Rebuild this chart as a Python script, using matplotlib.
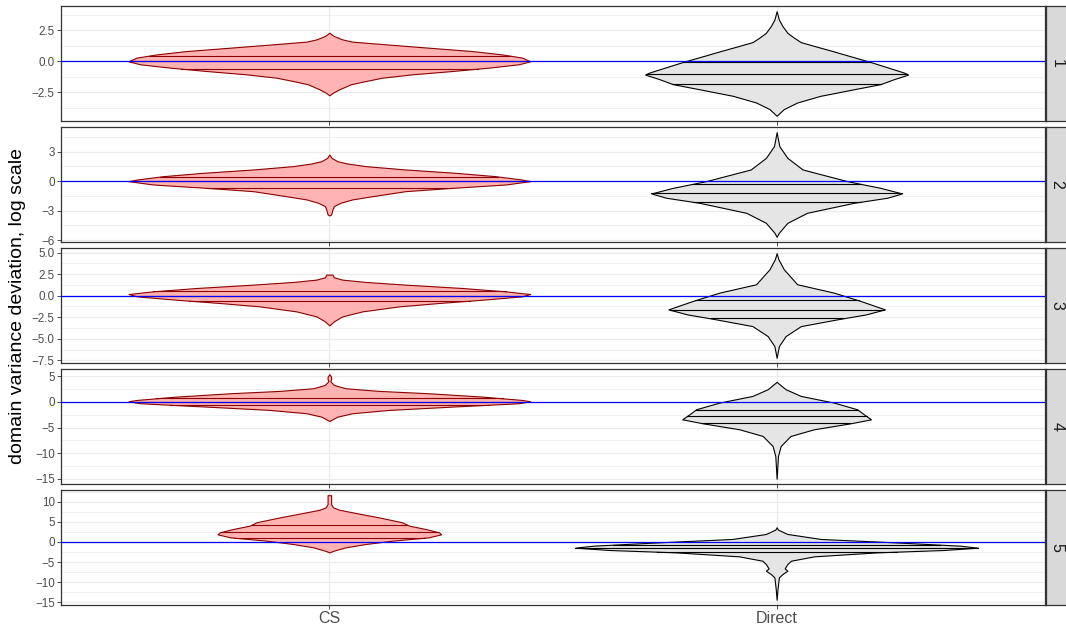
import numpy as np
import matplotlib
matplotlib.use('Agg')
import matplotlib.pyplot as plt

plt.rcParams['font.family'] = ['Liberation Sans', 'DejaVu Sans']

# categories on the x axis and facet labels
groups = ['CS', 'Direct']
facets = ['1', '2', '3', '4', '5']

# violin outlines: y value and half width (x units)
p1_cs_y = [2.31, 2.04, 1.77, 1.59, 1.37, 1.10, 0.83, 0.56, 0.30, 0.0, -0.24, -0.51, -0.78,
           -1.05, -1.32, -1.59, -1.85, -2.26, -2.53, -2.74]
p1_cs_w = [0.0, 0.010, 0.029, 0.051, 0.126, 0.222, 0.319, 0.386, 0.431, 0.449, 0.423, 0.356,
           0.275, 0.185, 0.118, 0.081, 0.048, 0.022, 0.008, 0.0]
p1_cs_q = [0.46, 0.0, -0.59]
p1_dr_y = [4.04, 3.37, 2.84, 2.30, 1.90, 1.55, 1.23, 0.83, 0.43, 0.0, -0.51, -0.91, -1.07,
           -1.44, -1.84, -2.25, -2.78, -3.32, -3.85, -4.39]
p1_dr_w = [0.0, 0.005, 0.013, 0.024, 0.039, 0.054, 0.085, 0.125, 0.163, 0.205, 0.25, 0.285,
           0.294, 0.262, 0.232, 0.173, 0.098, 0.046, 0.016, 0.0]
p1_dr_q = [-0.05, -1.02, -1.82]

p2_cs_y = [2.71, 2.37, 2.03, 1.8, 1.53, 1.19, 0.85, 0.51, 0.17, 0.0, -0.34, -0.68, -1.02,
           -1.53, -1.86, -2.2, -2.54, -2.88, -3.39, -3.49]
p2_cs_w = [0.0, 0.005, 0.018, 0.04, 0.081, 0.17, 0.282, 0.371, 0.43, 0.449, 0.394, 0.275,
           0.17, 0.096, 0.051, 0.025, 0.01, 0.007, 0.004, 0.0]
p2_cs_q = [0.47, 0.0, -0.68]
p2_dr_y = [4.98, 3.56, 2.37, 1.19, 0.0, -0.68, -1.25, -1.69, -2.2, -3.22, -4.24, -5.25, -5.66]
p2_dr_w = [0.0, 0.006, 0.024, 0.058, 0.158, 0.232, 0.28, 0.247, 0.173, 0.068, 0.024, 0.005, 0.0]
p2_dr_q = [-0.27, -1.25, -2.1]

p3_cs_y = [2.44, 2.13, 1.86, 1.59, 1.28, 0.89, 0.5, 0.19, -0.08, -0.47, -0.85, -1.24, -1.82,
           -2.4, -2.98, -3.45]
p3_cs_w = [0.007, 0.01, 0.029, 0.081, 0.17, 0.297, 0.394, 0.449, 0.43, 0.342, 0.245, 0.156,
           0.074, 0.029, 0.01, 0.0]
p3_cs_q = [0.5, 0.0, -0.58]
p3_dr_y = [4.92, 4.22, 3.06, 1.32, 0.35, -0.62, -1.59, -2.17, -2.75, -3.53, -4.69, -5.85, -7.2]
p3_dr_w = [0.0, 0.004, 0.016, 0.046, 0.128, 0.188, 0.242, 0.2, 0.135, 0.054, 0.02, 0.005, 0.0]
p3_dr_q = [-0.54, -1.63, -2.64]

p4_cs_y = [5.4, 4.9, 4.4, 4.1, 3.97, 3.32, 2.67, 2.15, 1.69, 1.04, 0.39, 0.13, -0.26, -0.91,
           -1.56, -2.21, -2.87, -3.71]
p4_cs_w = [0.0, 0.004, 0.004, 0.002, 0.003, 0.01, 0.036, 0.111, 0.222, 0.342, 0.43, 0.449,
           0.423, 0.275, 0.133, 0.051, 0.018, 0.0]
p4_cs_q = [0.7, 0.05, -0.55]
p4_dr_y = [3.91, 2.48, 1.17, -0.13, -1.43, -2.41, -3.39, -4.17, -5.34, -6.64, -8.6, -10.55, -14.98]
p4_dr_w = [0.0, 0.02, 0.054, 0.128, 0.18, 0.195, 0.211, 0.165, 0.083, 0.031, 0.009, 0.003, 0.0]
p4_dr_q = [-1.5, -2.8, -4.17]

p5_cs_y = [11.6, 9.4, 8.6, 8.0, 7.37, 6.1, 4.89, 4.06, 3.23, 2.4, 1.9, 1.16, 0.33, -0.5,
           -1.33, -2.15, -2.57]
p5_cs_w = [0.004, 0.004, 0.008, 0.022, 0.051, 0.111, 0.163, 0.178, 0.215, 0.245, 0.25, 0.222,
           0.141, 0.081, 0.036, 0.01, 0.0]
p5_cs_q = [4.31, 2.49, 1.08]
p5_dr_y = [3.65, 3.07, 1.99, 0.75, -0.08, -0.91, -1.41, -1.99, -2.57, -3.56, -4.64, -5.47,
           -6.55, -7.12, -7.95, -8.78, -11.68, -14.33]
p5_dr_w = [0.0, 0.003, 0.024, 0.099, 0.262, 0.41, 0.45, 0.373, 0.225, 0.084, 0.032, 0.024,
           0.018, 0.024, 0.013, 0.005, 0.002, 0.0]
p5_dr_q = [-0.66, -1.41, -2.4]

# y ticks per facet (free scales)
ticks = [[-2.5, 0.0, 2.5],
         [-6, -3, 0, 3],
         [-7.5, -5.0, -2.5, 0.0, 2.5, 5.0],
         [-15, -10, -5, 0, 5],
         [-15, -10, -5, 0, 5, 10]]
tick_fmt = ['%.1f', '%d', '%.1f', '%d', '%d']

panels = [
    [(p1_cs_y, p1_cs_w, p1_cs_q), (p1_dr_y, p1_dr_w, p1_dr_q)],
    [(p2_cs_y, p2_cs_w, p2_cs_q), (p2_dr_y, p2_dr_w, p2_dr_q)],
    [(p3_cs_y, p3_cs_w, p3_cs_q), (p3_dr_y, p3_dr_w, p3_dr_q)],
    [(p4_cs_y, p4_cs_w, p4_cs_q), (p4_dr_y, p4_dr_w, p4_dr_q)],
    [(p5_cs_y, p5_cs_w, p5_cs_q), (p5_dr_y, p5_dr_w, p5_dr_q)],
]

fills = ['#FFB3B3', '#E5E5E5']
edges = ['#8B0000', '#000000']

W, H = 1066, 627
fig = plt.figure(figsize=(W / 100, H / 100), dpi=100)

left, right = 61, 1045
tops = [6, 127, 248, 369, 490]
ph = 115

for i, (top, violins) in enumerate(zip(tops, panels)):
    ax = fig.add_axes([left / W, 1 - (top + ph) / H, (right - left) / W, ph / H])

    t = ticks[i]
    step = t[1] - t[0]
    minor = np.arange(t[0] - step / 2, t[-1] + step, step)
    ax.set_yticks(t)
    ax.set_yticklabels([(tick_fmt[i] % v).replace('-', '\u2212') for v in t])
    ax.set_yticks(minor, minor=True)
    ax.set_xticks([1, 2])
    if i == 4:
        ax.set_xticklabels(groups, fontsize=11.5, color='#4D4D4D')
    else:
        ax.set_xticklabels([])

    # limits after ticks, data range + 5%
    allv = np.concatenate([v[0] for v in violins])
    lo, hi = allv.min(), allv.max()
    pad = (hi - lo) * 0.05
    ax.set_ylim(lo - pad, hi + pad)
    ax.set_xlim(0.4, 2.6)

    ax.tick_params(axis='y', labelsize=8.4, labelcolor='#4D4D4D', color='#333333',
                   length=3, width=0.6, pad=1.5)
    ax.tick_params(axis='x', color='#333333', length=3, width=0.6, pad=1.5)
    ax.tick_params(which='minor', length=0)
    ax.grid(True, which='major', color='#EBEBEB', lw=0.9)
    ax.grid(True, which='minor', axis='y', color='#EBEBEB', lw=0.5)
    ax.set_axisbelow(True)
    for s in ax.spines.values():
        s.set_color('#333333')
        s.set_linewidth(0.9)

    for k, (vy, vw, vq) in enumerate(violins):
        vy = np.array(vy)
        vw = np.array(vw)
        pos = k + 1
        ax.fill_betweenx(vy, pos - vw, pos + vw, facecolor=fills[k],
                         edgecolor=edges[k], lw=0.8, zorder=2)
        order = np.argsort(vy)
        for q in vq:
            hw = np.interp(q, vy[order], vw[order])
            ax.plot([pos - hw, pos + hw], [q, q], color=edges[k], lw=0.8, zorder=3)

    ax.axhline(0, color='#0000FF', lw=0.9, zorder=4)

    # strip on the right
    sx = fig.add_axes([(right + 1) / W, 1 - (top + ph) / H, 24 / W, ph / H])
    sx.set_facecolor('#D9D9D9')
    sx.set_xticks([])
    sx.set_yticks([])
    for s in sx.spines.values():
        s.set_color('#333333')
        s.set_linewidth(0.9)
    sx.text(0.45, 0.5, facets[i], rotation=-90, ha='center', va='center',
            fontsize=11.5, color='#1A1A1A', transform=sx.transAxes)

fig.text(18 / W, 1 - 305.5 / H, 'domain variance deviation, log scale', rotation=90,
         ha='center', va='center', fontsize=14, color='black')

fig.savefig('out.png', dpi=100)
